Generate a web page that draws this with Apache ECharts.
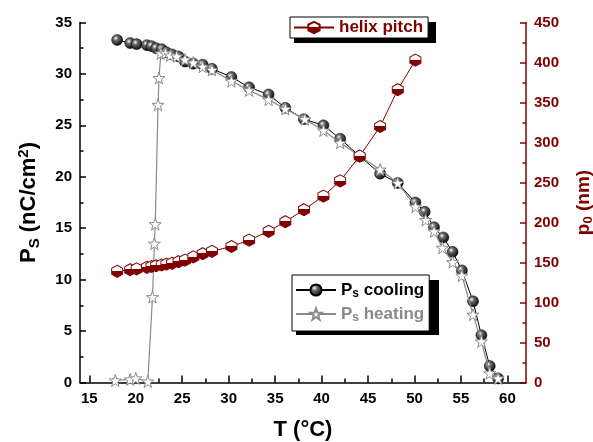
<!DOCTYPE html>
<html>
<head>
<meta charset="utf-8">
<script src="https://cdn.jsdelivr.net/npm/echarts@6/dist/echarts.min.js"></script>
<style>
  html, body { margin: 0; padding: 0; background: #fff; }
  #chart { width: 593px; height: 442px; }
</style>
</head>
<body>
<div id="chart"></div>
<script>
// temperatures (°C) and values
const tCooling = [18.0, 19.4, 20.1, 21.2, 21.7, 22.2, 22.8, 23.3, 23.9, 24.6, 25.3, 26.2, 27.2, 28.2, 30.3, 32.2, 34.3, 36.1, 38.1, 40.2, 42.0, 44.1, 46.3, 48.2, 50.1, 51.1, 52.1, 53.1, 54.1, 55.1, 56.3, 57.2, 58.1, 59.0]
const psCooling = [33.3, 33.0, 32.9, 32.8, 32.7, 32.5, 32.4, 32.1, 31.9, 31.7, 31.2, 31.0, 30.9, 30.5, 29.7, 28.7, 28.0, 26.7, 25.6, 25.0, 23.7, 22.0, 20.3, 19.4, 17.5, 16.6, 15.1, 14.1, 12.7, 10.9, 7.9, 4.6, 1.6, 0.4]

const tHeating = [17.8, 19.4, 20.0, 21.3, 21.8, 22.0, 22.1, 22.4, 22.5, 22.7, 23.2, 23.7, 24.4, 25.3, 26.2, 27.2, 28.2, 30.3, 32.2, 34.3, 36.1, 38.2, 40.2, 42.0, 44.1, 46.3, 48.2, 50.1, 51.2, 52.1, 53.0, 54.1, 55.1, 56.3, 57.2, 58.1, 59.0]
const psHeating = [0.2, 0.3, 0.4, 0.1, 8.3, 13.5, 15.4, 27.0, 29.6, 32.0, 32.0, 31.8, 31.7, 31.4, 31.1, 30.7, 30.4, 29.3, 28.4, 27.5, 26.6, 25.6, 24.5, 23.3, 22.0, 20.7, 19.4, 17.1, 15.8, 14.7, 13.1, 11.7, 10.4, 6.6, 4.0, 0.9, 0.4]

const tPitch = [18.0, 19.4, 20.1, 21.2, 21.7, 22.2, 22.8, 23.3, 23.9, 24.6, 25.3, 26.2, 27.2, 28.2, 30.3, 32.2, 34.3, 36.1, 38.1, 40.2, 42.0, 44.1, 46.3, 48.2, 50.1]
const pitch = [139, 141, 142, 144, 145, 146, 147, 148, 149, 151, 153, 157, 161, 164, 170, 178, 189, 201, 216, 233, 252, 283, 320, 366, 403]

const xTicks = [15, 20, 25, 30, 35, 40, 45, 50, 55, 60]
const xMinorTicks = [17.5, 22.5, 27.5, 32.5, 37.5, 42.5, 47.5, 52.5, 57.5]

const wine = '#800000'
const grey = '#8a8a8a'
const font = 'Liberation Sans, Arial, sans-serif'

const pairs = (xs, ys) => xs.map((x, i) => [x, ys[i]])

const starPath = 'path://M0,-10L2.35,-3.24L9.51,-3.09L3.8,1.24L5.88,8.09L0,4L-5.88,8.09L-3.8,1.24L-9.51,-3.09L-2.35,-3.24Z'
const hexPath = 'path://M0,-10L8.66,-5L8.66,5L0,10L-8.66,5L-8.66,-5Z'

const sphere = {
  type: 'radial', x: 0.38, y: 0.35, r: 0.7,
  colorStops: [
    { offset: 0, color: '#ffffff' },
    { offset: 0.3, color: '#6a6a6a' },
    { offset: 1, color: '#000000' }
  ]
}
const halfHex = {
  type: 'linear', x: 0, y: 0, x2: 0, y2: 1,
  colorStops: [
    { offset: 0, color: '#ffffff' },
    { offset: 0.48, color: '#ffffff' },
    { offset: 0.48, color: wine },
    { offset: 1, color: wine }
  ]
}

const tickLabel = { fontFamily: font, fontWeight: 'bold', fontSize: 15 }

const myChart = echarts.init(document.getElementById('chart'))
myChart.setOption({
  animation: false,
  backgroundColor: '#fff',
  grid: { left: 80, right: 67, top: 22.5, bottom: 59.5, outerBoundsMode: 'none', containLabel: false },
  // solid drop shadows behind the two legend boxes
  graphic: [
    { type: 'rect', left: 294, top: 22, shape: { width: 142, height: 21 }, style: { fill: '#000' }, z: 3 },
    { type: 'rect', left: 296, top: 280, shape: { width: 143, height: 55 }, style: { fill: '#000' }, z: 3 }
  ],
  legend: [
    {
      data: ['helix pitch'],
      left: 290, top: 17,
      itemWidth: 40, itemHeight: 14, itemGap: 5,
      padding: [2, 5, 2, 3],
      backgroundColor: '#fff', borderColor: '#000', borderWidth: 1,
      z: 5,
      textStyle: { fontFamily: font, fontWeight: 'bold', fontSize: 17, color: wine }
    },
    {
      data: ['Ps cooling', 'Ps heating'],
      orient: 'vertical',
      left: 292, top: 275,
      itemWidth: 40, itemHeight: 14, itemGap: 4,
      padding: [5, 5, 7, 3],
      backgroundColor: '#fff', borderColor: '#000', borderWidth: 1,
      z: 5,
      formatter: function (name) {
        return name === 'Ps cooling' ? '{a|P}{b|s}{a| cooling}' : '{c|P}{d|s}{c| heating}'
      },
      textStyle: {
        fontFamily: font, fontWeight: 'bold', fontSize: 17,
        rich: {
          a: { fontFamily: font, fontWeight: 'bold', fontSize: 17, lineHeight: 20, color: '#000' },
          b: { fontFamily: font, fontWeight: 'bold', fontSize: 12, lineHeight: 12, padding: [8, 0, 0, 0], color: '#000' },
          c: { fontFamily: font, fontWeight: 'bold', fontSize: 17, lineHeight: 20, color: grey },
          d: { fontFamily: font, fontWeight: 'bold', fontSize: 12, lineHeight: 12, padding: [8, 0, 0, 0], color: grey }
        }
      }
    }
  ],
  xAxis: [
    {
      type: 'value', min: 14, max: 62,
      name: 'T (°C)', nameLocation: 'middle', nameGap: 36,
      nameTextStyle: { fontFamily: font, fontWeight: 'bold', fontSize: 22, color: '#000' },
      axisLine: { lineStyle: { color: '#000', width: 1.5 } },
      axisTick: { inside: true, length: 7, customValues: xTicks, lineStyle: { width: 1.5 } },
      axisLabel: Object.assign({ customValues: xTicks, color: '#000', margin: 9 }, tickLabel),
      splitLine: { show: false }
    },
    {
      // short ticks between the labelled ones
      type: 'value', min: 14, max: 62, position: 'top', offset: -360,
      axisLine: { show: false },
      axisTick: { inside: false, length: 4, customValues: xMinorTicks, lineStyle: { color: '#000', width: 1.5 } },
      axisLabel: { show: false },
      splitLine: { show: false }
    }
  ],
  yAxis: [
    {
      type: 'value', min: 0, max: 35, interval: 5,
      name: '{a|P}{b|S}{a| (nC/cm}{c|2}{a|)}',
      nameLocation: 'middle', nameRotate: 90, nameGap: 38,
      nameTextStyle: {
        rich: {
          a: { fontFamily: font, fontWeight: 'bold', fontSize: 22, lineHeight: 26, color: '#000' },
          b: { fontFamily: font, fontWeight: 'bold', fontSize: 15, lineHeight: 15, padding: [11, 0, 0, 0], color: '#000' },
          c: { fontFamily: font, fontWeight: 'bold', fontSize: 15, lineHeight: 15, padding: [0, 0, 11, 0], color: '#000' }
        }
      },
      axisLine: { show: true, lineStyle: { color: '#000', width: 1.5 } },
      axisTick: { inside: true, length: 6, lineStyle: { width: 1.5 } },
      minorTick: { show: true, splitNumber: 2, length: 3.5, lineStyle: { color: '#000', width: 1.5 } },
      axisLabel: Object.assign({ color: '#000', margin: 8 }, tickLabel),
      splitLine: { show: false }
    },
    {
      type: 'value', min: 0, max: 450, interval: 50, position: 'right',
      name: '{a|p}{b|0}{a| (nm)}',
      nameLocation: 'middle', nameRotate: 90, nameGap: 46,
      nameTextStyle: {
        rich: {
          a: { fontFamily: font, fontWeight: 'bold', fontSize: 19, lineHeight: 23, color: wine },
          b: { fontFamily: font, fontWeight: 'bold', fontSize: 13, lineHeight: 13, padding: [10, 0, 0, 0], color: wine }
        }
      },
      axisLine: { show: true, lineStyle: { color: wine, width: 1.5 } },
      axisTick: { inside: true, length: 6, lineStyle: { width: 1.5 } },
      minorTick: { show: true, splitNumber: 2, length: 3.5, lineStyle: { color: wine, width: 1.5 } },
      axisLabel: Object.assign({ color: wine, margin: 8 }, tickLabel),
      splitLine: { show: false }
    }
  ],
  series: [
    {
      name: 'Ps cooling',
      type: 'line',
      data: pairs(tCooling, psCooling),
      symbol: 'circle', symbolSize: 11,
      lineStyle: { color: '#000', width: 1 },
      itemStyle: { color: sphere, borderColor: '#000', borderWidth: 0.5 },
      z: 2
    },
    {
      name: 'Ps heating',
      type: 'line',
      data: pairs(tHeating, psHeating),
      symbol: starPath, symbolSize: 12,
      lineStyle: { color: grey, width: 1.2 },
      itemStyle: { color: '#fff', borderColor: grey, borderWidth: 1 },
      z: 3
    },
    {
      name: 'helix pitch',
      type: 'line',
      yAxisIndex: 1,
      data: pairs(tPitch, pitch),
      symbol: hexPath, symbolSize: [11, 12],
      lineStyle: { color: wine, width: 1 },
      itemStyle: { color: halfHex, borderColor: wine, borderWidth: 1 },
      z: 4
    }
  ]
})
</script>
</body>
</html>
